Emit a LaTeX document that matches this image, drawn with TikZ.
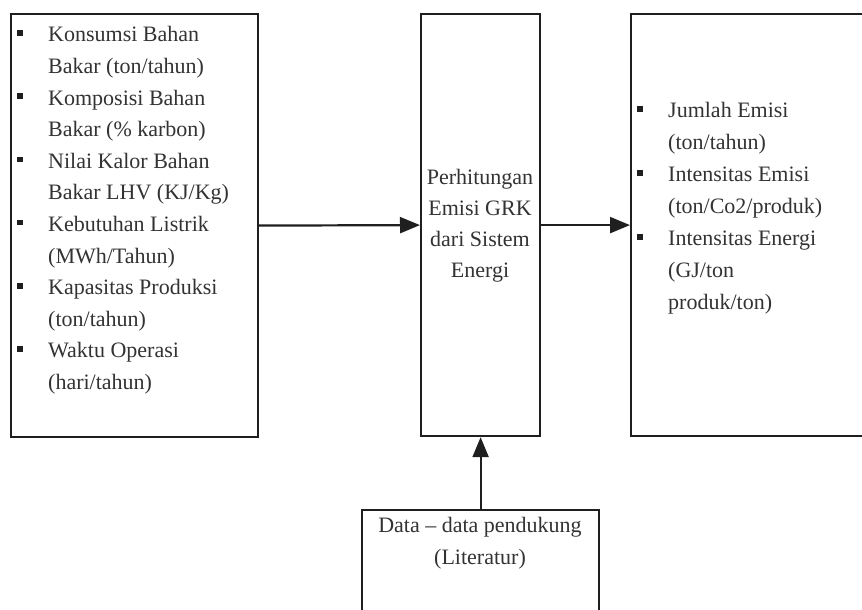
\documentclass[tikz,border=0pt]{standalone}
\usepackage{fontspec}
\setmainfont{Liberation Serif}
\usetikzlibrary{arrows.meta}
\begin{document}
\begin{tikzpicture}[x=1pt,y=1pt,
  box/.style={draw=black!88,line width=2.2pt,inner sep=0pt,anchor=north west},
  txt/.style={font=\fontsize{22}{26}\selectfont,text=black!80,inner sep=0pt,anchor=base west},
  ctxt/.style={txt,anchor=base},
  bul/.style={fill=black!88,minimum size=5.5pt,inner sep=0pt},
  arr/.style={line width=2.2pt,draw=black!88,-{Triangle[length=20pt,width=16pt]}}]
\clip (0,0) rectangle (862,610);
\fill[white] (0,0) rectangle (862,610);
% boxes
\node[box,minimum width=247pt,minimum height=423pt] (inp) at (10,597) {};
\node[box,minimum width=119pt,minimum height=422pt] (proc) at (420,597) {};
\node[box,minimum width=260pt,minimum height=422pt] (out) at (630,597) {};
\node[box,minimum width=237pt,minimum height=130pt] (lit) at (361,101) {};
% left box text
\foreach \t [count=\i from 0] in {Konsumsi Bahan,Bakar (ton/tahun),Komposisi Bahan,Bakar (\% karbon),Nilai Kalor Bahan,Bakar LHV (KJ/Kg),Kebutuhan Listrik,{(MWh/Tahun)},Kapasitas Produksi,{(ton/tahun)},Waktu Operasi,{(hari/tahun)}}
  \node[txt] (a\i) at (48,{610-42-31.6*\i}) {\t};
\foreach \i in {0,2,...,10}
  \node[bul] (ba\i) at (20,{610-42-31.6*\i+9}) {};
% middle text
\foreach \t [count=\i from 0] in {Perhitungan,Emisi GRK,dari Sistem,Energi}
  \node[ctxt] (m\i) at (480,{610-185-31*\i}) {\t};
% right box text
\foreach \t [count=\i from 0] in {Jumlah Emisi,{(ton/tahun)},Intensitas Emisi,{(ton/Co2/produk)},Intensitas Energi,{(GJ/ton},produk/ton)}
  \node[txt] (r\i) at (668,{610-118-32*\i}) {\t};
\foreach \i in {0,2,4}
  \node[bul] (br\i) at (640,{610-118-32*\i+9}) {};
% bottom text
\node[ctxt] (d0) at (480,{610-533}) {Data – data pendukung};
\node[ctxt] (d1) at (480,{610-565}) {(Literatur)};
% connectors
\draw[arr] (inp.east) -- (proc.west);
\draw[arr] (proc.east) -- (proc.east -| out.west);
\draw[arr] (lit.north) -- (proc.south);
\end{tikzpicture}
\end{document}
